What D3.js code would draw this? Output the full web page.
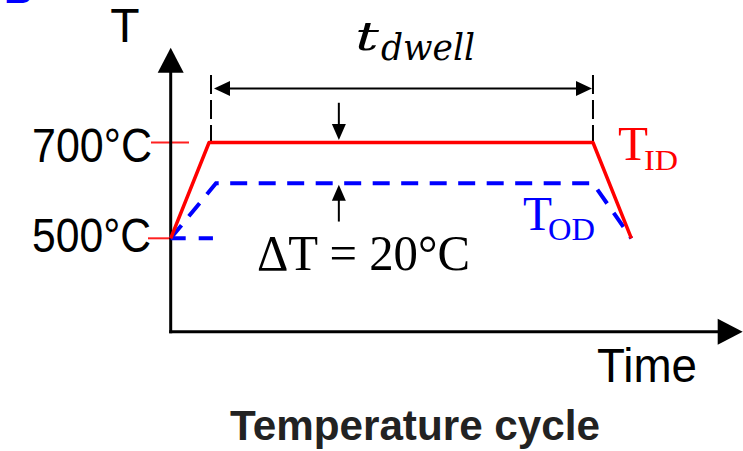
<!DOCTYPE html>
<html>
<head>
<meta charset="utf-8">
<script src="https://d3js.org/d3.v7.min.js"></script>
<style>
    body { margin: 0; background: #ffffff; }
    text.sans { font-family: "Liberation Sans", Arial, sans-serif; }
    text.serif { font-family: "Liberation Serif", "Times New Roman", serif; }
    text.math { font-family: "DejaVu Serif", serif; font-style: italic; }
</style>
</head>
<body>
<div id="container"></div>
<script>
    // schematic temperature cycle: time in minutes, temperature in °C
    const idTime = [0, 10, 110, 120];
    const idTemp = [500, 700, 700, 500];
    const odTime = [0, 11.8, 110, 120];
    const odTemp = [500, 615, 615, 500];
    const odStartTime = [0, 11];
    const odStartTemp = [500, 500];
    const tempTicks = [700, 500];
    const tempLabels = ["700°C", "500°C"];
    const dwellTime = [10.5, 110];
    const deltaTime = 43.8;
    const axisTime = [0, 149];
    const axisTemp = [305, 898];

    const W = 743, H = 451;

    const svg = d3.select("#container")
        .append("svg")
        .attr("width", W)
        .attr("height", H);

    // scales
    const x = d3.scaleLinear().domain(axisTime).range([170.7, 742.7]);
    const y = d3.scaleLinear().domain(axisTemp).range([331.7, 47.7]);

    const x0 = x(0), y0 = y(axisTemp[0]);

    // triangle arrow head, tip at (tx, ty), pointing in dir
    function head(tx, ty, dir, len, half) {
        if (dir == "up") return `M${tx},${ty}L${tx - half},${ty + len}L${tx + half},${ty + len}Z`;
        if (dir == "down") return `M${tx},${ty}L${tx - half},${ty - len}L${tx + half},${ty - len}Z`;
        if (dir == "left") return `M${tx},${ty}L${tx + len},${ty - half}L${tx + len},${ty + half}Z`;
        return `M${tx},${ty}L${tx - len},${ty - half}L${tx - len},${ty + half}Z`;
    }

    // panel letter (cut off at the top, as in the source figure)
    svg.append("text")
        .attr("class", "sans")
        .attr("x", 4)
        .attr("y", 3)
        .style("font-size", "40px")
        .style("font-weight", "bold")
        .style("fill", "#0000ff")
        .text("B");

    // red tick marks at the labelled temperatures
    const tickLeft = [19.7, 22.7], tickRight = [18.3, 0];
    svg.selectAll(".tempTick")
        .data(tempTicks)
        .enter()
        .append("line")
        .attr("class", "tempTick")
        .attr("x1", (d, i) => x0 - tickLeft[i])
        .attr("x2", (d, i) => x0 + tickRight[i])
        .attr("y1", d => y(d))
        .attr("y2", d => y(d))
        .style("stroke", "#ff2020")
        .style("stroke-width", 2);

    // axes with arrows
    svg.append("line")
        .attr("x1", x0).attr("x2", x0)
        .attr("y1", y0 + 1.5).attr("y2", y(axisTemp[1]) + 24)
        .style("stroke", "#000").style("stroke-width", 3);
    svg.append("path")
        .attr("d", head(x0, y(axisTemp[1]), "up", 25, 13))
        .style("fill", "#000");
    svg.append("line")
        .attr("x1", x0 - 1.5).attr("x2", x(axisTime[1]) - 24)
        .attr("y1", y0).attr("y2", y0)
        .style("stroke", "#000").style("stroke-width", 3);
    svg.append("path")
        .attr("d", head(x(axisTime[1]), y0, "right", 25, 13))
        .style("fill", "#000");

    // dwell markers
    svg.selectAll(".dwell")
        .data(dwellTime)
        .enter()
        .append("line")
        .attr("class", "dwell")
        .attr("x1", d => x(d)).attr("x2", d => x(d))
        .attr("y1", y(841)).attr("y2", y(700))
        .style("stroke", "#000")
        .style("stroke-width", 2)
        .style("stroke-dasharray", "19,6");

    const yDim = y(813);
    svg.append("line")
        .attr("x1", x(dwellTime[0]) + 14).attr("x2", x(dwellTime[1]) - 14)
        .attr("y1", yDim).attr("y2", yDim)
        .style("stroke", "#000").style("stroke-width", 2);
    svg.append("path").attr("d", head(x(dwellTime[0]) + 3, yDim, "left", 16, 7.5)).style("fill", "#000");
    svg.append("path").attr("d", head(x(dwellTime[1]) - 1, yDim, "right", 16, 7.5)).style("fill", "#000");

    // delta T arrows
    const xd = x(deltaTime);
    svg.append("line")
        .attr("x1", xd).attr("x2", xd)
        .attr("y1", y(783)).attr("y2", y(700) - 14)
        .style("stroke", "#000").style("stroke-width", 2);
    svg.append("path").attr("d", head(xd, y(700) - 2.5, "down", 16, 7)).style("fill", "#000");
    svg.append("line")
        .attr("x1", xd).attr("x2", xd)
        .attr("y1", y(535)).attr("y2", y(615) + 14)
        .style("stroke", "#000").style("stroke-width", 2);
    svg.append("path").attr("d", head(xd, y(615) + 1.5, "up", 16, 7)).style("fill", "#000");

    // temperature curves
    const line = d3.line().x(d => x(d[0])).y(d => y(d[1]));

    svg.append("path")
        .datum(odStartTime.map((t, i) => [t, odStartTemp[i]]))
        .attr("d", line)
        .style("fill", "none")
        .style("stroke", "#0000ff")
        .style("stroke-width", 4)
        .style("stroke-dasharray", "15,13");

    svg.append("path")
        .datum(odTime.map((t, i) => [t, odTemp[i]]))
        .attr("d", line)
        .style("fill", "none")
        .style("stroke", "#0000ff")
        .style("stroke-width", 4)
        .style("stroke-dasharray", "17,11.5");

    svg.append("path")
        .datum(idTime.map((t, i) => [t, idTemp[i]]))
        .attr("d", line)
        .style("fill", "none")
        .style("stroke", "#ff0000")
        .style("stroke-width", 3.5)
        .style("stroke-linejoin", "round");

    // labels
    svg.append("text")
        .attr("class", "sans")
        .attr("x", 125).attr("y", 42)
        .attr("text-anchor", "middle")
        .style("font-size", "48px")
        .text("T");

    const labelDy = [19.5, 13.5], labelW = [120, 119];
    svg.selectAll(".tempLabel")
        .data(tempTicks)
        .enter()
        .append("text")
        .attr("class", "sans tempLabel")
        .attr("x", 32)
        .attr("y", (d, i) => y(d) + labelDy[i])
        .attr("textLength", (d, i) => labelW[i])
        .attr("lengthAdjust", "spacingAndGlyphs")
        .style("font-size", "48px")
        .text((d, i) => tempLabels[i]);

    svg.append("text")
        .attr("class", "sans")
        .attr("x", 597).attr("y", 382)
        .attr("textLength", 100).attr("lengthAdjust", "spacingAndGlyphs")
        .style("font-size", "48px")
        .text("Time");

    svg.append("text")
        .attr("class", "sans")
        .attr("x", 230).attr("y", 440)
        .attr("textLength", 370).attr("lengthAdjust", "spacingAndGlyphs")
        .style("font-size", "42px")
        .style("font-weight", "bold")
        .style("fill", "#222222")
        .text("Temperature cycle");

    // t_dwell
    svg.append("text")
        .attr("class", "math")
        .attr("x", 355).attr("y", 50)
        .attr("textLength", 24).attr("lengthAdjust", "spacingAndGlyphs")
        .style("font-size", "40px")
        .text("t");
    svg.append("text")
        .attr("class", "math")
        .attr("x", 381).attr("y", 60)
        .attr("textLength", 94).attr("lengthAdjust", "spacingAndGlyphs")
        .style("font-size", "38px")
        .text("dwell");

    svg.append("text")
        .attr("class", "serif")
        .attr("x", 257).attr("y", 270)
        .attr("textLength", 213).attr("lengthAdjust", "spacingAndGlyphs")
        .style("font-size", "50px")
        .text("ΔT = 20°C");

    // curve names
    svg.append("text").attr("class", "serif")
        .attr("x", 618).attr("y", 160)
        .attr("textLength", 30).attr("lengthAdjust", "spacingAndGlyphs")
        .style("font-size", "48px").style("fill", "#ff0000")
        .text("T");
    svg.append("text").attr("class", "serif")
        .attr("x", 644).attr("y", 170)
        .attr("textLength", 34).attr("lengthAdjust", "spacingAndGlyphs")
        .style("font-size", "30px").style("fill", "#ff0000")
        .text("ID");
    svg.append("text").attr("class", "serif")
        .attr("x", 523).attr("y", 230)
        .attr("textLength", 29).attr("lengthAdjust", "spacingAndGlyphs")
        .style("font-size", "48px").style("fill", "#0000ff")
        .text("T");
    svg.append("text").attr("class", "serif")
        .attr("x", 548).attr("y", 240)
        .attr("textLength", 47).attr("lengthAdjust", "spacingAndGlyphs")
        .style("font-size", "32px").style("fill", "#0000ff")
        .text("OD");
</script>
</body>
</html>
